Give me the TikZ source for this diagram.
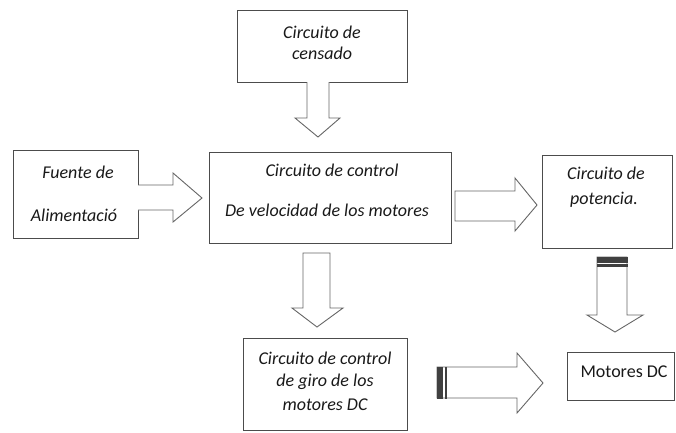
\documentclass[tikz,border=0pt]{standalone}
\usepackage{fontspec}
\setmainfont{Carlito}
\begin{document}
\begin{tikzpicture}[x=1pt,y=-1pt,
  box/.style={draw=black!70,line width=1.4pt,rectangle,inner sep=0pt,anchor=north west},
  lbl/.style={font=\fontsize{18}{20}\selectfont\itshape,text=black!90,inner sep=0pt},
  barrow/.style={draw=black!60,line width=0.9pt,fill=white,line join=miter},
  darkband/.style={fill=black!75,draw=black!75,line width=0.4pt}]
\useasboundingbox (0,0) rectangle (676,432);
% boxes
\node[box,minimum width=170pt,minimum height=72pt] (cens) at (237,10) {};
\node[box,minimum width=125pt,minimum height=88pt] (fuente) at (13,150) {};
\node[box,minimum width=242pt,minimum height=91pt] (ctrl) at (209,152) {};
\node[box,minimum width=130pt,minimum height=93pt] (pot) at (542,155) {};
\node[box,minimum width=164pt,minimum height=92pt] (giro) at (243,338) {};
\node[box,minimum width=107pt,minimum height=48pt] (mot) at (567,352) {};
% labels
\node[lbl] (t1) at (322,32) {Circuito de};
\node[lbl] (t2) at (322,53) {censado};
\node[lbl] (t3) at (78,172) {Fuente de};
\node[lbl] (t4) at (74,215) {Alimentació};
\node[lbl] (t5) at (332,170) {Circuito de control};
\node[lbl] (t6) at (327,210) {De velocidad de los motores};
\node[lbl] (t7) at (606,173) {Circuito de};
\node[lbl] (t8) at (604,200) {potencia.};
\node[lbl] (t9) at (325,358) {Circuito de control};
\node[lbl] (t10) at (325,382) {de giro de los};
\node[lbl] (t11) at (325,405) {motores DC};
\node[lbl,font=\fontsize{18}{20}\selectfont] (t12) at (624,372) {Motores DC};
% block arrows
\draw[barrow] (307,82) -- (307,118) -- (295,118) -- (318,137) -- (340,118) -- (329,118) -- (329,82);
\draw[barrow] (138,185) -- (173,185) -- (173,173) -- (202,198) -- (173,222) -- (173,210) -- (138,210);
\draw[barrow] (455,191) -- (515,191) -- (515,178) -- (537,205) -- (515,231) -- (515,221) -- (455,221) -- cycle;
\draw[barrow] (303,253) -- (303,308) -- (292,308) -- (317,327) -- (343,308) -- (330,308) -- (330,253) -- cycle;
\draw[barrow] (597,257) -- (597,315) -- (587,315) -- (615,332) -- (643,315) -- (627,315) -- (627,257) -- cycle;
\draw[barrow] (437,367) -- (517,367) -- (517,353) -- (543,383) -- (517,413) -- (517,398) -- (437,398) -- cycle;
% dark bands
\draw[darkband] (597,257) rectangle (627,262);
\draw[darkband] (597,264.5) rectangle (627,266);
\draw[darkband] (437,367) rectangle (442.5,398);
\draw[darkband] (445,367) rectangle (446.5,398);
\end{tikzpicture}
\end{document}
